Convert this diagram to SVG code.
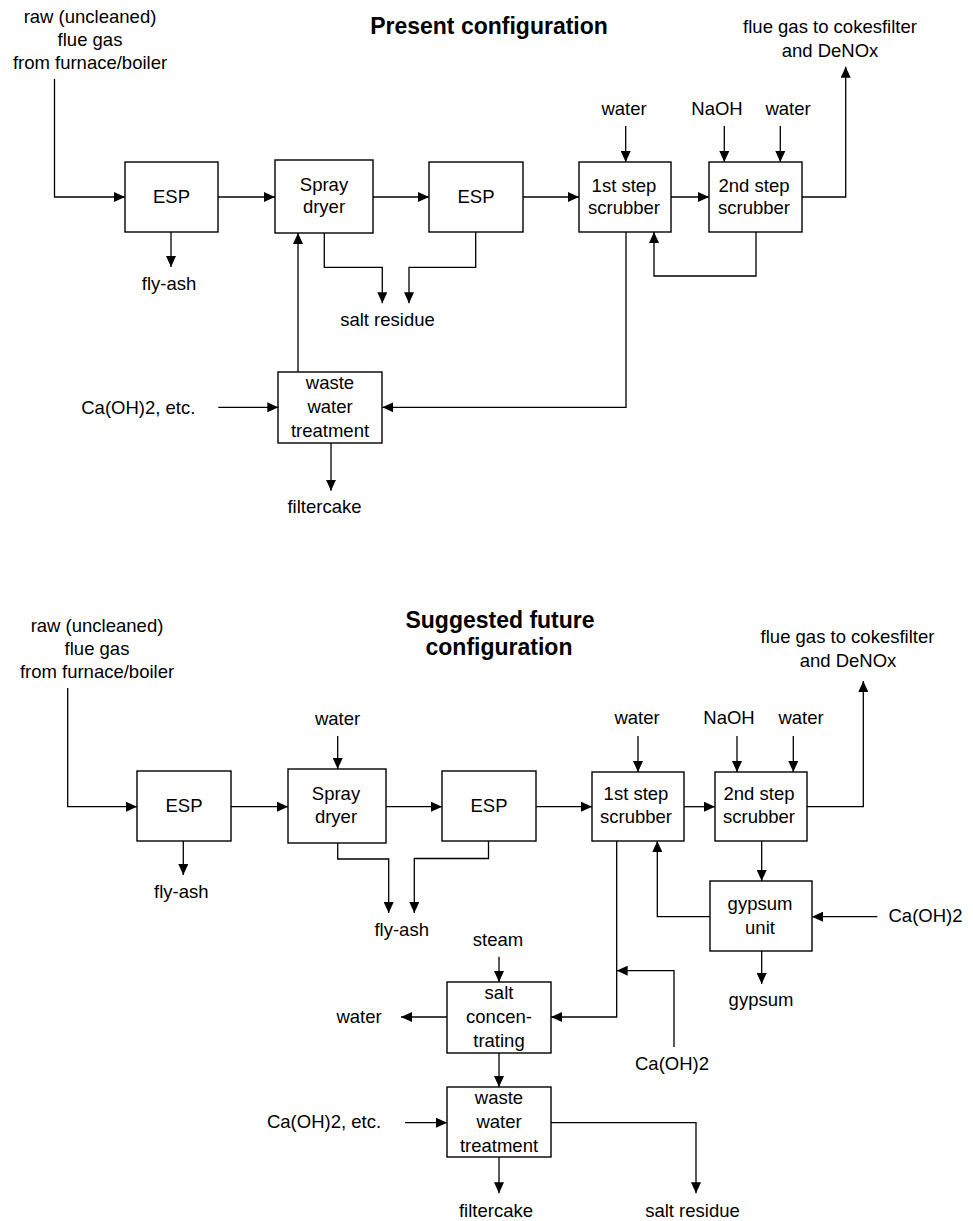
<svg xmlns="http://www.w3.org/2000/svg" width="973" height="1221" viewBox="0 0 973 1221">
<defs>
<marker id="ah" markerUnits="userSpaceOnUse" markerWidth="11" markerHeight="10" refX="11" refY="5" orient="auto">
<path d="M0,0 L11,5 L0,10 z" fill="#000"/>
</marker>
<style>
text{font-family:"Liberation Sans",Arial,sans-serif;font-size:18.5px;fill:#000;text-anchor:middle}
.title{font-weight:bold;font-size:23px}
rect{fill:#fff;stroke:#000;stroke-width:1.4}
.c path{fill:none;stroke:#000;stroke-width:1.3}
.a{marker-end:url(#ah)}
</style>
</defs>
<rect x="0" y="0" width="973" height="1221" style="stroke:none;fill:#fff"/>

<!-- ============ PRESENT CONFIGURATION ============ -->
<g id="title1"><text class="title" x="489" y="34">Present configuration</text></g>
<g id="p_labels">
<text x="90" y="23">raw (uncleaned)</text>
<text x="90" y="46">flue gas</text>
<text x="90" y="69">from furnace/boiler</text>
<text x="169" y="290">fly-ash</text>
<text x="387.5" y="326">salt residue</text>
<text x="624" y="115">water</text>
<text x="717" y="115">NaOH</text>
<text x="788" y="115">water</text>
<text x="830" y="33">flue gas to cokesfilter</text>
<text x="830" y="57">and DeNOx</text>
<text x="138.3" y="414">Ca(OH)2, etc.</text>
<text x="324.5" y="513">filtercake</text>
</g>

<g id="p_esp1"><rect x="125" y="162" width="93" height="70"/><text x="171.5" y="203">ESP</text></g>
<g id="p_spray"><rect x="275" y="160" width="98" height="73"/><text x="324" y="191">Spray</text><text x="324" y="213">dryer</text></g>
<g id="p_esp2"><rect x="429" y="162" width="94" height="70"/><text x="476" y="203">ESP</text></g>
<g id="p_scrub1"><rect x="579" y="162" width="92" height="70"/><text x="624" y="191.5">1st step</text><text x="624" y="214">scrubber</text></g>
<g id="p_scrub2"><rect x="709" y="162" width="93" height="70"/><text x="754" y="191.5">2nd step</text><text x="754" y="214">scrubber</text></g>
<g id="p_wwt"><rect x="278" y="372" width="104" height="71"/><text x="330" y="389.3">waste</text><text x="330" y="413.3">water</text><text x="330" y="437.3">treatment</text></g>

<g id="p_connectors" class="c">
<path class="a" d="M54.5,79 V197 H125"/>
<path class="a" d="M218,197 H275"/>
<path class="a" d="M171,232 V267"/>
<path class="a" d="M373,197 H429"/>
<path class="a" d="M523,197 H579"/>
<path class="a" d="M625.7,126 V162"/>
<path class="a" d="M671,197 H709"/>
<path class="a" d="M724.3,126 V162"/>
<path class="a" d="M780.3,126 V162"/>
<path class="a" d="M802,197 H845.7 V66.7"/>
<path class="a" d="M756,232 V276 H654 V232"/>
<path class="a" d="M324.3,233 V267.3 H382.3 V303.3"/>
<path class="a" d="M475.7,232 V267.3 H409 V303.3"/>
<path class="a" d="M298,372 V233"/>
<path class="a" d="M626,232 V407.3 H382.3"/>
<path class="a" d="M218.3,407.3 H278.3"/>
<path class="a" d="M331,443 V490.7"/>
</g>

<!-- ============ SUGGESTED FUTURE CONFIGURATION ============ -->
<g id="title2"><text class="title" x="500" y="628">Suggested future</text><text class="title" x="499" y="655">configuration</text></g>
<g id="f_labels">
<text x="97" y="632">raw (uncleaned)</text>
<text x="97" y="655">flue gas</text>
<text x="97" y="678">from furnace/boiler</text>
<text x="181.3" y="898">fly-ash</text>
<text x="337.5" y="725">water</text>
<text x="401.7" y="935.7">fly-ash</text>
<text x="637" y="724.3">water</text>
<text x="729" y="724.3">NaOH</text>
<text x="801" y="724.3">water</text>
<text x="847.5" y="642.7">flue gas to cokesfilter</text>
<text x="848" y="666.7">and DeNOx</text>
<text x="925.5" y="922">Ca(OH)2</text>
<text x="761" y="1006">gypsum</text>
<text x="498" y="946">steam</text>
<text x="359" y="1023">water</text>
<text x="672" y="1070">Ca(OH)2</text>
<text x="324" y="1128.3">Ca(OH)2, etc.</text>
<text x="496" y="1216.7">filtercake</text>
<text x="692.5" y="1216.7">salt residue</text>
</g>

<g id="f_esp1"><rect x="137" y="771" width="94" height="70"/><text x="184" y="812">ESP</text></g>
<g id="f_spray"><rect x="288" y="769" width="98" height="74"/><text x="336" y="800">Spray</text><text x="336" y="823">dryer</text></g>
<g id="f_esp2"><rect x="442" y="771" width="94" height="70"/><text x="489" y="812">ESP</text></g>
<g id="f_scrub1"><rect x="592" y="772" width="92" height="69"/><text x="636" y="800">1st step</text><text x="636" y="823">scrubber</text></g>
<g id="f_scrub2"><rect x="715" y="772" width="92" height="69"/><text x="759" y="800">2nd step</text><text x="759" y="823">scrubber</text></g>
<g id="f_gypsum"><rect x="710" y="881" width="102" height="70"/><text x="760" y="910">gypsum</text><text x="760" y="934">unit</text></g>
<g id="f_saltconc"><rect x="447" y="982" width="104" height="71"/><text x="499" y="999">salt</text><text x="499" y="1023">concen-</text><text x="499" y="1047">trating</text></g>
<g id="f_wwt"><rect x="447" y="1087" width="104" height="70"/><text x="499" y="1104">waste</text><text x="499" y="1128">water</text><text x="499" y="1152">treatment</text></g>

<g id="f_connectors" class="c">
<path class="a" d="M67.7,688 V806.7 H137"/>
<path class="a" d="M183.3,841 V875"/>
<path class="a" d="M231,806.7 H288"/>
<path class="a" d="M337.7,736 V769"/>
<path class="a" d="M386,806.7 H442"/>
<path class="a" d="M337.7,843 V859 H388.7 V913"/>
<path class="a" d="M488.5,841 V858.5 H414.3 V913"/>
<path class="a" d="M536,806.7 H592"/>
<path class="a" d="M638,736 V772"/>
<path class="a" d="M684,806.7 H715"/>
<path class="a" d="M737,736 V772"/>
<path class="a" d="M793.3,736 V772"/>
<path class="a" d="M807,806.7 H863.3 V681"/>
<path class="a" d="M761.7,841 V881"/>
<path class="a" d="M710,916.7 H657.3 V841"/>
<path class="a" d="M877.3,916.7 H812"/>
<path class="a" d="M761.7,951 V984"/>
<path class="a" d="M616.7,841 V1017 H551"/>
<path class="a" d="M674,1047 V970.7 H616.7"/>
<path class="a" d="M499,956.7 V982"/>
<path class="a" d="M447,1017 H401"/>
<path class="a" d="M499,1053 V1087"/>
<path class="a" d="M405,1122.7 H447"/>
<path class="a" d="M551,1122.7 H696 V1193.3"/>
<path class="a" d="M499,1157 V1193.3"/>
</g>
</svg>
